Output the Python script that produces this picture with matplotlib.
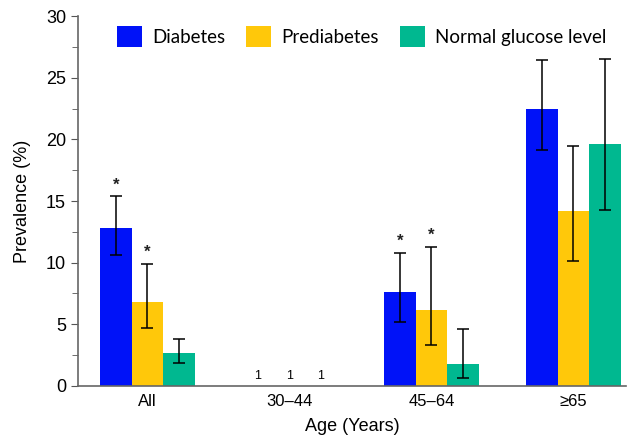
import numpy as np
import matplotlib.pyplot as plt
from matplotlib.ticker import MultipleLocator

groups = ['All', '30–44', '45–64', '≥65']
series = ['Diabetes', 'Prediabetes', 'Normal glucose level']
colors = ['#0012F8', '#FFC80A', '#00B890']

# prevalence (%) with 95% CI; 30-44 had too few cases (nan)
diab = [12.8, np.nan, 7.6, 22.5]
diab_lo = [10.6, np.nan, 5.2, 19.1]
diab_hi = [15.4, np.nan, 10.8, 26.4]
pre = [6.8, np.nan, 6.2, 14.2]
pre_lo = [4.7, np.nan, 3.3, 10.1]
pre_hi = [9.9, np.nan, 11.3, 19.5]
norm = [2.7, np.nan, 1.8, 19.6]
norm_lo = [1.9, np.nan, 0.65, 14.3]
norm_hi = [3.8, np.nan, 4.6, 26.5]

# significance markers per (series, group)
stars = [(0, 0), (1, 0), (0, 2), (1, 2)]

plt.rcParams['font.family'] = ['Liberation Sans', 'DejaVu Sans']

fig = plt.figure(figsize=(6.38, 4.45), dpi=100)
ax = fig.add_axes([0.122, 0.1326, 0.859, 0.8314])

x = np.arange(len(groups))
w = 0.222
vals = [diab, pre, norm]
los = [diab_lo, pre_lo, norm_lo]
his = [diab_hi, pre_hi, norm_hi]
for i, (v, lo, hi) in enumerate(zip(vals, los, his)):
    v = np.array(v); lo = np.array(lo); hi = np.array(hi)
    pos = x + (i - 1) * w
    ax.bar(pos, v, w, color=colors[i], label=series[i], linewidth=0)
    ax.errorbar(pos, v, yerr=[v - lo, hi - v], fmt='none', ecolor='black',
                elinewidth=1.1, capsize=4, capthick=1.1)

for s, g in stars:
    ax.text(x[g] + (s - 1) * w, his[s][g] + 0.3, '*', ha='center', va='bottom',
            fontsize=12, fontweight='bold', color='#222222')

# 30-44: one case in each group
for i in range(3):
    ax.text(x[1] + (i - 1) * w, 0.3, '1', ha='center', va='bottom', fontsize=9)

ax.set_xlim(-0.49, 3.37)
ax.set_ylim(0, 30)
ax.set_xticks(x)
ax.set_xticklabels(groups, fontsize=12)
ax.tick_params(axis='x', length=0, pad=6)
ax.yaxis.set_major_locator(MultipleLocator(5))
ax.yaxis.set_minor_locator(MultipleLocator(2.5))
ax.tick_params(axis='y', which='major', length=5, labelsize=13, color='#555555')
ax.tick_params(axis='y', which='minor', length=4, color='#555555')
for side in ['top', 'right']:
    ax.spines[side].set_visible(False)
for side in ['left', 'bottom']:
    ax.spines[side].set_color('#666666')
    ax.spines[side].set_linewidth(1.2)

ax.set_ylabel('Prevalence (%)', fontsize=13, labelpad=11)
ax.set_xlabel('Age (Years)', fontsize=13, labelpad=6)

ax.legend(loc='upper center', bbox_to_anchor=(0.518, 1.018), ncol=3, frameon=False,
          handlelength=1.35, handleheight=1.35, handletextpad=0.55, columnspacing=1.1,
          prop={'family': 'Lato', 'size': 13.5})

fig.savefig('out.png', dpi=100)
